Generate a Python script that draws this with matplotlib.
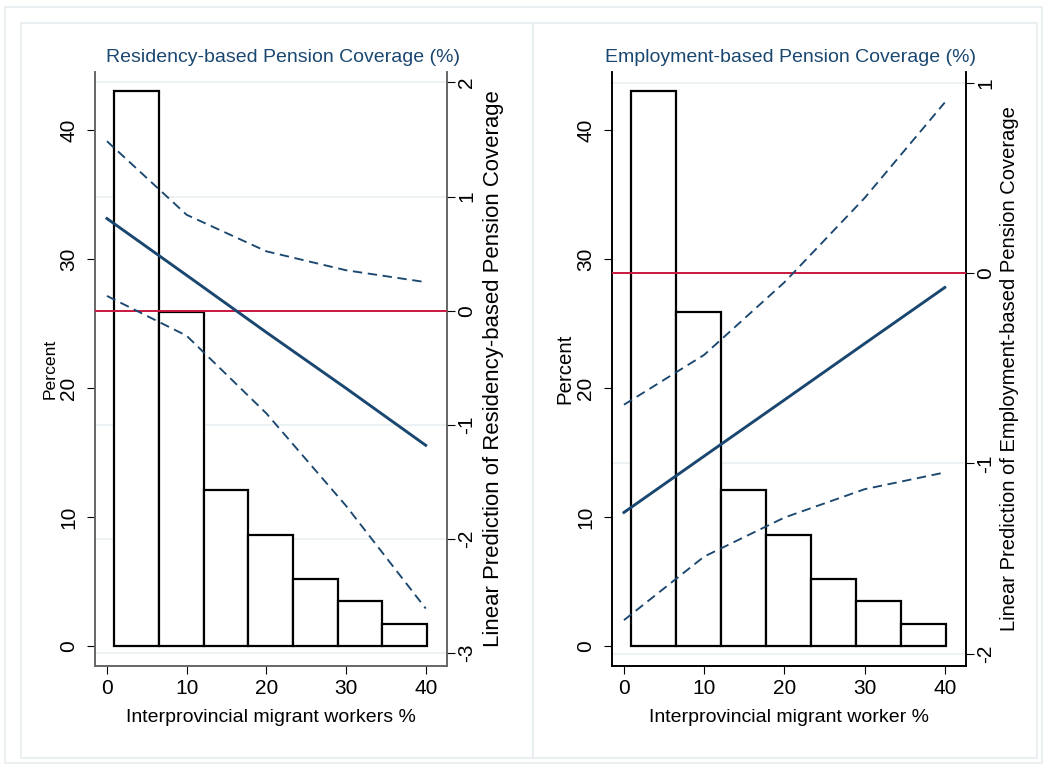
import numpy as np
import matplotlib
matplotlib.use("Agg")
import matplotlib.pyplot as plt
from matplotlib.patches import Rectangle
from matplotlib.transforms import blended_transform_factory

plt.rcParams['font.family'] = ['Liberation Sans', 'DejaVu Sans']

# histogram of interprovincial migrant share (same sample both panels)
bin_edges = [0.93, 6.55, 12.15, 17.75, 23.35, 28.95, 34.55, 40.15]
percent = [43.05, 25.9, 12.1, 8.63, 5.19, 3.49, 1.73]

# margins at x = 0,10,...,40
x_at = [0, 10, 20, 30, 40]
res_fit = [0.807, 0.31, -0.19, -0.68, -1.18]
res_upper = [1.485, 0.84, 0.52, 0.354, 0.25]
res_lower = [0.129, -0.22, -0.90, -1.71, -2.61]
emp_fit = [-1.258, -0.962, -0.667, -0.371, -0.076]
emp_upper = [-0.692, -0.43, -0.049, 0.394, 0.896]
emp_lower = [-1.824, -1.49, -1.285, -1.136, -1.048]

navy = '#1a476f'
red = '#c8173f'
grid_c = '#e9f0f2'
W, H = 1047, 769

fig = plt.figure(figsize=(W / 100, H / 100), dpi=100)

# panel frames (Stata style graph regions)
def frame(x0, y0, x1, y1):
    fig.patches.append(Rectangle((x0 / W, 1 - y1 / H), (x1 - x0) / W, (y1 - y0) / H,
                                 transform=fig.transFigure, fill=False,
                                 edgecolor='#e6eef0', lw=1.2))
frame(5, 7, 1042, 763)
frame(21, 23, 533, 758)
frame(533, 23, 1037, 758)


def panel(px0, px1, title, title_cx, xlabel, ylab_r, fit, up, lo, xlim, ylim_r,
          yticks_r, spine_c, plabel_size, rlabel_size, plabel_pad, rlabel_pad):
    pos = [px0 / W, 1 - 666 / H, (px1 - px0) / W, (666 - 71.7) / H]
    ax = fig.add_axes(pos)
    ax.set_xlim(*xlim)
    ax.set_ylim(-1.55, 44.52)
    ax.bar(bin_edges[:-1], percent, width=np.diff(bin_edges), align='edge',
           facecolor='white', edgecolor='black', linewidth=1.6, zorder=2)
    ax2 = ax.twinx()
    ax2.set_ylim(*ylim_r)
    ax2.set_yticks(yticks_r)
    ax2.set_yticklabels([str(t) for t in yticks_r], rotation=90, va='center')
    # grid from right axis, behind the bars
    tr = blended_transform_factory(ax.transAxes, ax2.transData)
    for t in yticks_r:
        if t != 0:
            ax.plot([0, 1], [t, t], color=grid_c, lw=1.2, transform=tr, zorder=0)
    ax2.axhline(0, color=red, lw=1.4, zorder=3)
    ax2.plot(x_at, fit, color=navy, lw=2.1, zorder=4)
    ax2.plot(x_at, up, color=navy, lw=1.35, dashes=(5, 3), zorder=4)
    ax2.plot(x_at, lo, color=navy, lw=1.35, dashes=(5, 3), zorder=4)

    ax.set_xticks(x_at)
    ax.set_yticks([0, 10, 20, 30, 40])
    ax.set_yticklabels(['0', '10', '20', '30', '40'], rotation=90, va='center')
    ax.tick_params(axis='y', length=5.5, width=0.8, labelsize=15, pad=6.5)
    ax.tick_params(axis='x', length=5.5, width=0.8, labelsize=15, pad=3.6)
    ax2.tick_params(axis='y', length=5.5, width=0.8, labelsize=15, pad=2)
    for a in (ax, ax2):
        for s in a.spines.values():
            s.set_color(spine_c)
            s.set_linewidth(1.2)
        a.spines['top'].set_visible(False)
    ax.set_xlabel(xlabel, fontsize=14, labelpad=8)
    ax.set_ylabel('Percent', fontsize=plabel_size, labelpad=plabel_pad)
    ax2.set_ylabel(ylab_r, fontsize=rlabel_size, labelpad=rlabel_pad)
    fig.text(title_cx / W, 1 - 62 / H, title, color=navy, fontsize=14,
             ha='center', va='baseline')
    return ax, ax2


panel(95, 447, 'Residency-based Pension Coverage (%)', 282.5,
      'Interprovincial migrant workers %',
      'Linear Prediction of Residency-based Pension Coverage',
      res_fit, res_upper, res_lower, (-1.5, 42.67), (-3.114, 2.094),
      [-3, -2, -1, 0, 1, 2], '#666666', 12.6, 15.9, 1, 5)

panel(611.7, 966, 'Employment-based Pension Coverage (%)', 790.5,
      'Interprovincial migrant worker %',
      'Linear Prediction of Employment-based Pension Coverage',
      emp_fit, emp_upper, emp_lower, (-1.53, 42.65), (-2.065, 1.058),
      [-2, -1, 0, 1], 'black', 14.7, 14.5, 1.5, 3.5)

fig.savefig('out.png', dpi=100)
